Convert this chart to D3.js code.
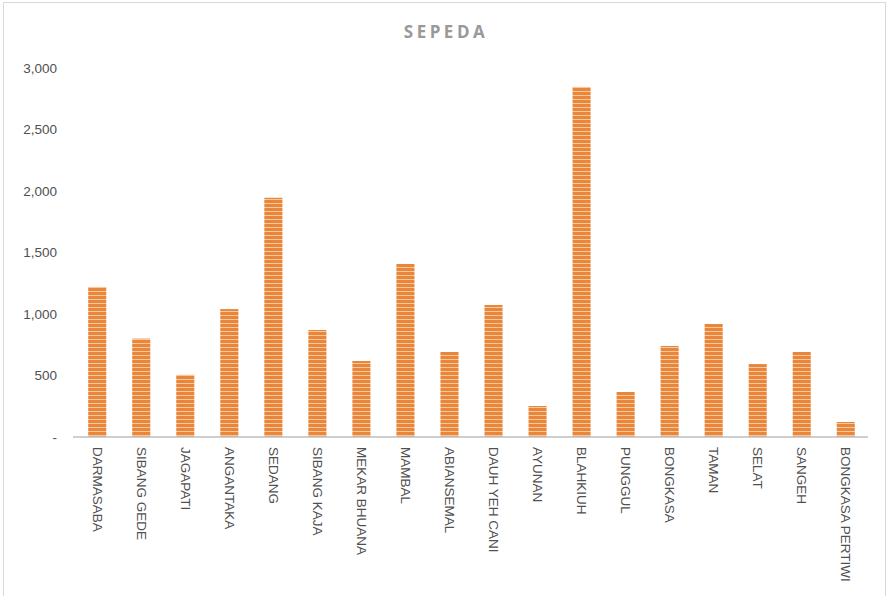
<!DOCTYPE html>
<html>
<head>
<meta charset="utf-8">
<script src="https://cdn.jsdelivr.net/npm/d3@7"></script>
<style>
  body { margin: 0; background: #fff; }
</style>
</head>
<body>
<div class="container"></div>
<script>
// chart data
const villages = ["DARMASABA", "SIBANG GEDE", "JAGAPATI", "ANGANTAKA", "SEDANG", "SIBANG KAJA",
  "MEKAR BHUANA", "MAMBAL", "ABIANSEMAL", "DAUH YEH CANI", "AYUNAN", "BLAHKIUH", "PUNGGUL",
  "BONGKASA", "TAMAN", "SELAT", "SANGEH", "BONGKASA PERTIWI"];
const sepeda = [1220, 800, 505, 1040, 1945, 870, 618, 1407, 691, 1073, 252, 2846, 366, 740, 919, 593, 691, 122];
const yTicks = [0, 500, 1000, 1500, 2000, 2500, 3000];

const width = 886;
const height = 596;
const margin = { top: 68, bottom: 159, left: 75, right: 18 };

const svg = d3.select(".container")
  .append("svg")
  .attr("width", width)
  .attr("height", height)
  .style("display", "block");

// striped fill like the original bars
const defs = svg.append("defs");
const pat = defs.append("pattern")
  .attr("id", "stripes")
  .attr("patternUnits", "userSpaceOnUse")
  .attr("width", 4)
  .attr("height", 4);
pat.append("rect").attr("width", 4).attr("height", 4).attr("fill", "#e9863a");
pat.append("rect").attr("y", 3).attr("width", 4).attr("height", 1).attr("fill", "#f6c8a0");

// outer frame
svg.append("rect")
  .attr("x", 3.5).attr("y", 2.5)
  .attr("width", width - 4).attr("height", height)
  .attr("fill", "none")
  .attr("stroke", "#d9d9d9");

// title
svg.append("text")
  .attr("x", 446)
  .attr("y", 38)
  .attr("text-anchor", "middle")
  .attr("font-family", "'Open Sans', sans-serif")
  .attr("font-weight", "bold")
  .attr("font-size", "17px")
  .attr("letter-spacing", "3.5px")
  .attr("fill", "#999999")
  .text("SEPEDA");

const xScale = d3.scaleBand()
  .domain(villages)
  .range([margin.left, width - margin.right])
  .paddingInner(0.59)
  .paddingOuter(0.3);

const yScale = d3.scaleLinear()
  .domain([0, 3000])
  .range([height - margin.bottom, margin.top]);

// y axis labels (no line)
const yAxis = svg.append("g")
  .attr("transform", `translate(${margin.left - 18}, 0)`)
  .call(d3.axisLeft(yScale)
    .tickValues(yTicks)
    .tickSize(0)
    .tickPadding(0)
    .tickFormat(d => d === 0 ? "-" : d3.format(",")(d)));
yAxis.select(".domain").remove();
yAxis.selectAll("text")
  .attr("font-family", "'Liberation Sans', sans-serif")
  .attr("font-size", "13.5px")
  .attr("fill", "#505050");

// bars
svg.append("g")
  .selectAll("rect")
  .data(sepeda)
  .join("rect")
  .attr("x", (d, i) => xScale(villages[i]))
  .attr("y", d => yScale(d))
  .attr("width", xScale.bandwidth())
  .attr("height", d => yScale(0) - yScale(d))
  .attr("fill", "url(#stripes)");

// x axis
const xAxis = svg.append("g")
  .attr("transform", `translate(0, ${height - margin.bottom})`)
  .call(d3.axisBottom(xScale).tickSize(0).tickSizeOuter(0));
xAxis.select(".domain")
  .attr("stroke", "#bfbfbf")
  .attr("stroke-width", 1.5)
  .attr("d", `M${margin.left - 2},0H${width - margin.right}`);
xAxis.selectAll("text")
  .attr("font-family", "'Liberation Sans Narrow', 'Liberation Sans', sans-serif")
  .attr("font-size", "13.5px")
  .attr("fill", "#505050")
  .attr("text-anchor", "start")
  .attr("dy", "0.35em")
  .attr("transform", "translate(0, 10) rotate(90)")
  .attr("y", 0)
  .attr("x", 0);
</script>
</body>
</html>
